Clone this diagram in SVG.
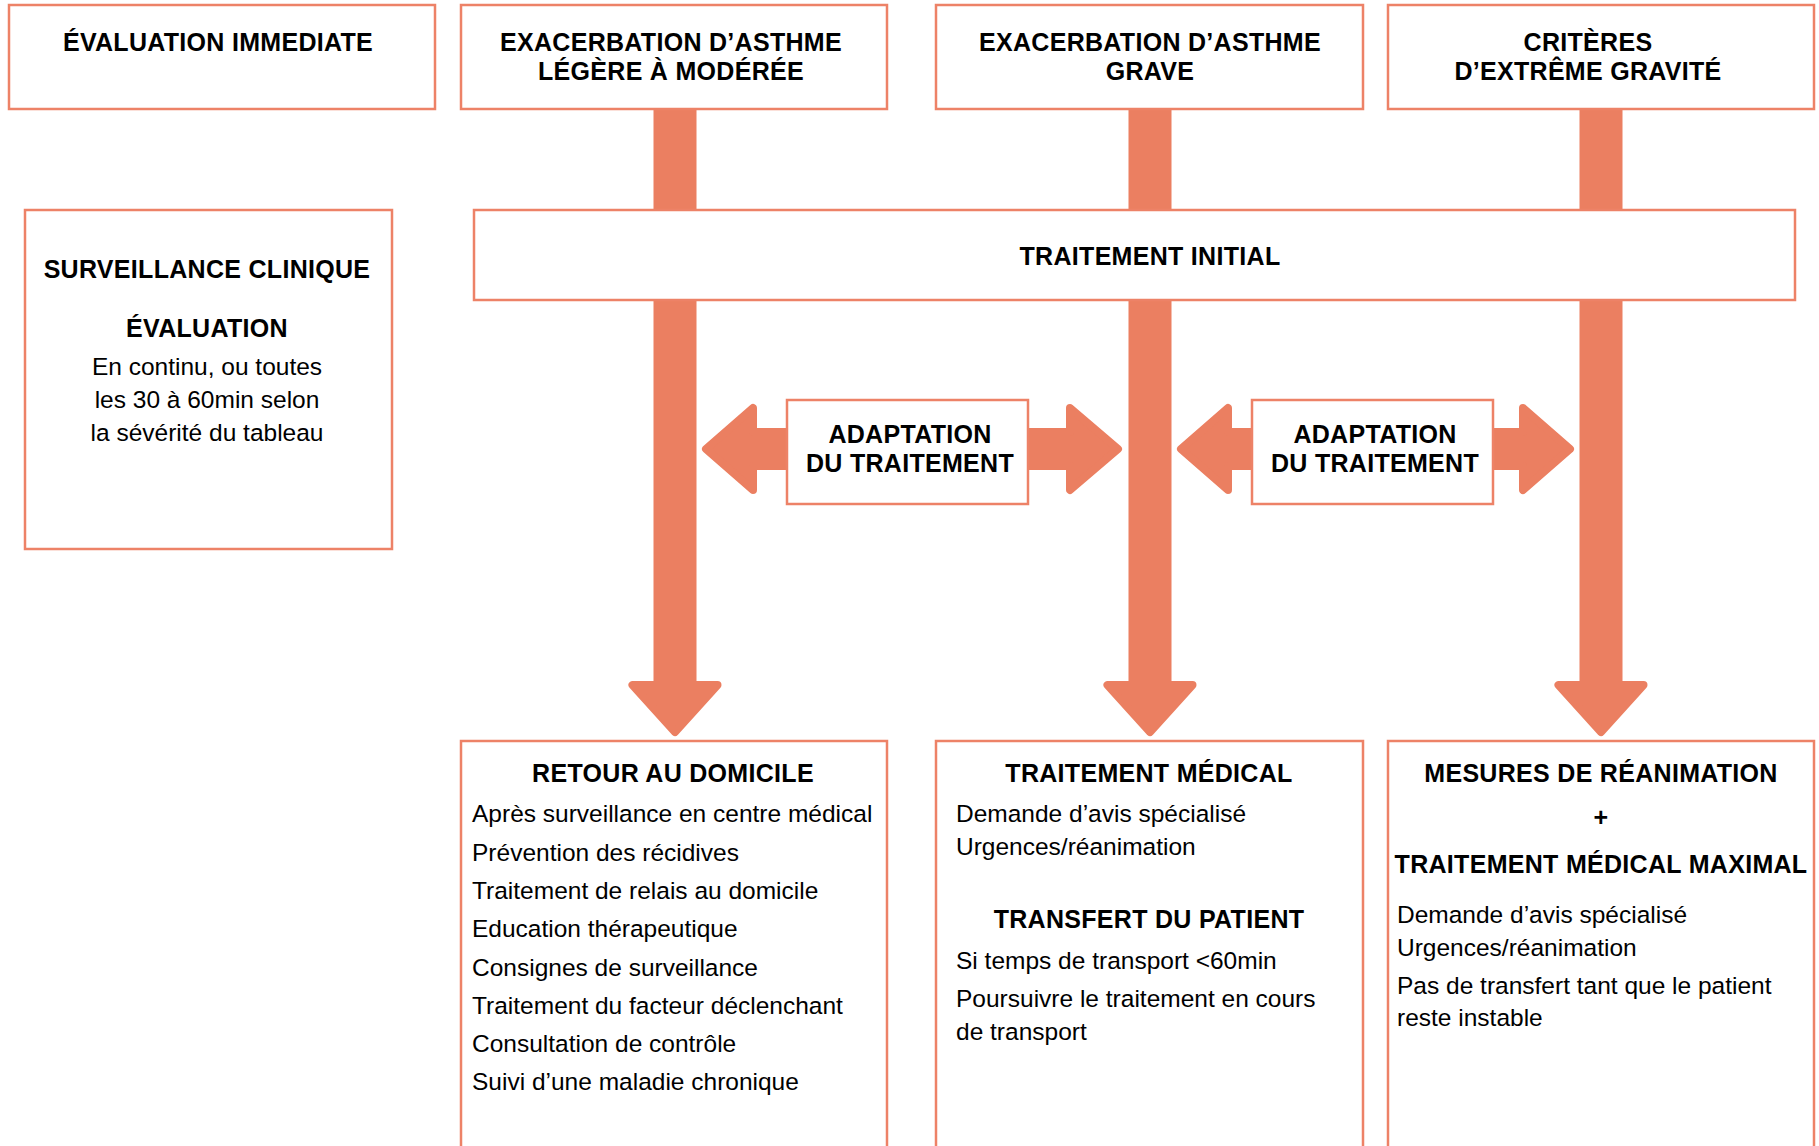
<svg xmlns="http://www.w3.org/2000/svg" width="1819" height="1146" viewBox="0 0 1819 1146">
<style>
.box{fill:#fff;stroke:#ED8267;stroke-width:2.5}
.arr{fill:#EB7F61}
.head{fill:#EB7F61;stroke:#EB7F61;stroke-width:8;stroke-linejoin:round}
.h{font-family:"Liberation Sans",Arial,sans-serif;font-weight:bold;font-size:25px;letter-spacing:0.3px;fill:#000;text-anchor:middle}
.b{font-family:"Liberation Sans",Arial,sans-serif;font-size:24.5px;fill:#000}
.c{text-anchor:middle}
</style>
<g id="connectors">
<rect class="arr" x="653.5" y="108" width="43" height="577"/>
<polygon class="head" points="632.5,685 717.5,685 675,732"/>
<rect class="arr" x="1128.5" y="108" width="43" height="577"/>
<polygon class="head" points="1107.5,685 1192.5,685 1150,732"/>
<rect class="arr" x="1579.5" y="108" width="43" height="577"/>
<polygon class="head" points="1558.5,685 1643.5,685 1601,732"/>
<polygon class="head" points="706,449 753,408 753,432 1070,432 1070,408 1118,449 1070,490 1070,466 753,466 753,490"/>
<polygon class="head" points="1181,449 1228,408 1228,432 1523,432 1523,408 1570,449 1523,490 1523,466 1228,466 1228,490"/>
</g>
<g id="evaluation-immediate">
<rect class="box" x="9" y="5" width="426" height="104"/>
<text class="h" x="218" y="51">ÉVALUATION IMMEDIATE</text>
</g>
<g id="exacerbation-legere">
<rect class="box" x="461" y="5" width="426" height="104"/>
<text class="h" x="671" y="51">EXACERBATION D’ASTHME</text>
<text class="h" x="671" y="80">LÉGÈRE À MODÉRÉE</text>
</g>
<g id="exacerbation-grave">
<rect class="box" x="936" y="5" width="427" height="104"/>
<text class="h" x="1150" y="51">EXACERBATION D’ASTHME</text>
<text class="h" x="1150" y="80">GRAVE</text>
</g>
<g id="extreme-gravite">
<rect class="box" x="1388" y="5" width="426" height="104"/>
<text class="h" x="1588" y="51">CRITÈRES</text>
<text class="h" x="1588" y="80">D’EXTRÊME GRAVITÉ</text>
</g>
<g id="surveillance">
<rect class="box" x="25" y="210" width="367" height="339"/>
<text class="h" x="207" y="278">SURVEILLANCE CLINIQUE</text>
<text class="h" x="207" y="337">ÉVALUATION</text>
<text class="b c" x="207" y="375">En continu, ou toutes</text>
<text class="b c" x="207" y="408">les 30 à 60min selon</text>
<text class="b c" x="207" y="441">la sévérité du tableau</text>
</g>
<g id="traitement-initial">
<rect class="box" x="474" y="210" width="1321" height="90"/>
<text class="h" x="1150" y="265">TRAITEMENT INITIAL</text>
</g>
<g id="adaptation-1">
<rect class="box" x="787" y="400" width="241" height="104"/>
<text class="h" x="910" y="443">ADAPTATION</text>
<text class="h" x="910" y="472">DU TRAITEMENT</text>
</g>
<g id="adaptation-2">
<rect class="box" x="1252" y="400" width="241" height="104"/>
<text class="h" x="1375" y="443">ADAPTATION</text>
<text class="h" x="1375" y="472">DU TRAITEMENT</text>
</g>
<g id="retour-domicile">
<rect class="box" x="461" y="741" width="426" height="430"/>
<text class="h" x="673" y="782">RETOUR AU DOMICILE</text>
<text class="b" x="472" y="822">Après surveillance en centre médical</text>
<text class="b" x="472" y="861">Prévention des récidives</text>
<text class="b" x="472" y="899">Traitement de relais au domicile</text>
<text class="b" x="472" y="937">Education thérapeutique</text>
<text class="b" x="472" y="976">Consignes de surveillance</text>
<text class="b" x="472" y="1014">Traitement du facteur déclenchant</text>
<text class="b" x="472" y="1052">Consultation de contrôle</text>
<text class="b" x="472" y="1090">Suivi d’une maladie chronique</text>
</g>
<g id="traitement-medical">
<rect class="box" x="936" y="741" width="427" height="430"/>
<text class="h" x="1149" y="782">TRAITEMENT MÉDICAL</text>
<text class="b" x="956" y="822">Demande d’avis spécialisé</text>
<text class="b" x="956" y="855">Urgences/réanimation</text>
<text class="h" x="1149" y="928">TRANSFERT DU PATIENT</text>
<text class="b" x="956" y="969">Si temps de transport &lt;60min</text>
<text class="b" x="956" y="1007">Poursuivre le traitement en cours</text>
<text class="b" x="956" y="1040">de transport</text>
</g>
<g id="reanimation">
<rect class="box" x="1388" y="741" width="426" height="430"/>
<text class="h" x="1601" y="782">MESURES DE RÉANIMATION</text>
<text class="h" x="1601" y="826">+</text>
<text class="h" x="1601" y="873">TRAITEMENT MÉDICAL MAXIMAL</text>
<text class="b" x="1397" y="923">Demande d’avis spécialisé</text>
<text class="b" x="1397" y="956">Urgences/réanimation</text>
<text class="b" x="1397" y="994">Pas de transfert tant que le patient</text>
<text class="b" x="1397" y="1026">reste instable</text>
</g>
</svg>
